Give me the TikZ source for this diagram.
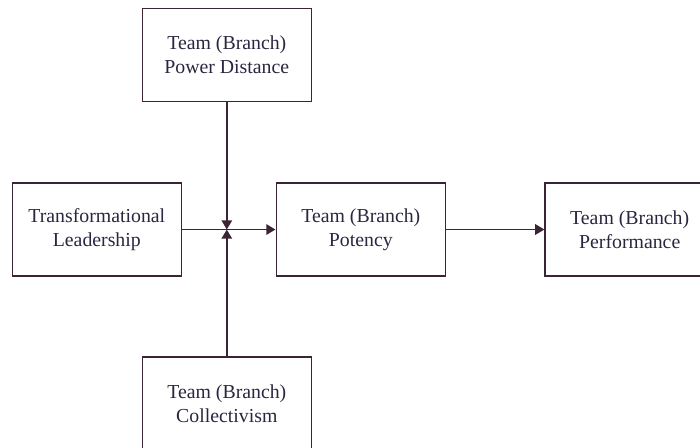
\documentclass[tikz,border=0pt]{standalone}
\usepackage{fontspec}
\setmainfont{Liberation Serif}
\usetikzlibrary{arrows.meta}
\definecolor{linecol}{HTML}{3A2436}
\definecolor{textcol}{HTML}{2A2640}
\begin{document}
\begin{tikzpicture}[x=0.5pt,y=-0.5pt,
  box/.style={draw=linecol,line width=0.8pt,minimum width=84.5pt,minimum height=46.5pt,
    inner sep=0pt,align=center,text=textcol,font=\fontsize{9.9}{12}\selectfont},
  link/.style={draw=linecol,line width=0.9pt},
  tip/.style={-{Triangle[length=4.6pt,width=5.2pt]}}]
\useasboundingbox (0,0) rectangle (700,447);
\clip (0,0) rectangle (700,447);
\node[box] (pd)   at (226.8,55)    {Team (Branch)\\Power Distance};
\node[box] (tl)   at (96.8,229.5)  {Transformational\\Leadership};
\node[box] (pot)  at (360.8,229.5) {Team (Branch)\\Potency};
\node[box] (perf) at (629.7,229.5) {Team (Branch)\\Performance};
\node[box] (col)  at (226.8,403.5) {Team (Branch)\\Collectivism};
\coordinate (mod) at (pd.south |- tl.east);
\draw[link,tip] (tl.east) -- (pot.west);
\draw[link,tip] (pd.south) -- (mod);
\draw[link,tip] (col.north) -- (mod);
\draw[link,tip] (pot.east) -- (perf.west);
\end{tikzpicture}
\end{document}
